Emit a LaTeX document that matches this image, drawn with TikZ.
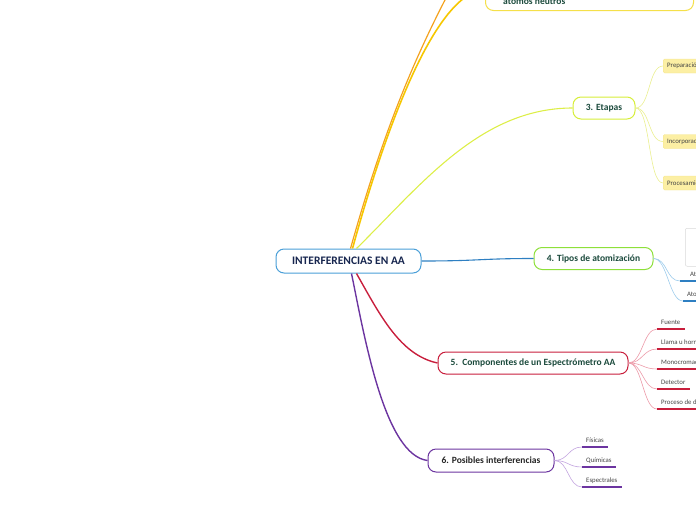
\documentclass[tikz,border=0pt]{standalone}
\usepackage{fontspec}
\setmainfont{Carlito}
\definecolor{cRoot}{HTML}{4A9FD8}
\definecolor{cOrange}{HTML}{F4A21E}
\definecolor{cGold}{HTML}{F6C700}
\definecolor{cYellowBox}{HTML}{F5E04A}
\definecolor{cLime}{HTML}{D7EE3A}
\definecolor{cLimeLine}{HTML}{DDEE48}
\definecolor{cEtFill}{HTML}{FCEFA4}
\definecolor{cEtDraw}{HTML}{F4E48C}
\definecolor{cEtLine}{HTML}{EAEF90}
\definecolor{cGreen}{HTML}{8EE03A}
\definecolor{cBlue}{HTML}{2E7FC2}
\definecolor{cBlueLight}{HTML}{9CCBEB}
\definecolor{cRed}{HTML}{C81E3C}
\definecolor{cRedLight}{HTML}{EC9AA8}
\definecolor{cPurple}{HTML}{6C35A0}
\definecolor{cPurpleLight}{HTML}{C3A5DF}
\definecolor{tdark}{HTML}{1B4A3C}
\definecolor{tnavy}{HTML}{17264F}
\definecolor{tgray}{HTML}{444444}
\begin{document}
\begin{tikzpicture}[x=1pt,y=-1pt,
  mainbox/.style={draw, rounded corners=8pt, line width=1pt, fill=white, inner sep=0pt,
    font=\bfseries\fontsize{9.5}{11}\selectfont, text=tdark},
  conn/.style={line width=1.4pt},
  sub/.style={line width=0.6pt},
  uline/.style={line width=1.2pt},
  leaf/.style={anchor=south west, inner xsep=4pt, inner ysep=2.5pt, text depth=1.5pt,
    text height=5pt, font=\fontsize{6.8}{8}\selectfont, text=tgray},
  etchild/.style={anchor=west, fill=cEtFill, draw=cEtDraw, line width=0.4pt, rounded corners=1.5pt,
    inner xsep=4pt, minimum height=14pt, text width=70pt, align=left,
    font=\fontsize{6.8}{8}\selectfont, text=tgray},
]
\useasboundingbox (0,0) rectangle (696,520);
\clip (0,0) rectangle (696,520);

% level-1 nodes
\node[mainbox, draw=cRoot, minimum width=145pt, minimum height=24pt,
  font=\bfseries\fontsize{11.5}{13}\selectfont, text=tnavy] (root) at (348.5,261) {INTERFERENCIAS EN AA};
\node[mainbox, draw=cYellowBox, minimum width=208pt, minimum height=42pt, anchor=south west] (atb) at (485,11) {};
\node[anchor=base west, inner sep=0pt, font=\bfseries\fontsize{9.5}{11}\selectfont, text=tdark] (att) at (503,4) {átomos neutros};
\node[mainbox, draw=cLime, minimum width=62pt, minimum height=22pt] (et) at (604,108) {3. Etapas};
\node[mainbox, draw=cGreen, minimum width=119pt, minimum height=22pt] (tip) at (593.5,258.5) {4. Tipos de atomización};
\node[mainbox, draw=cRed, minimum width=190pt, minimum height=22pt] (comp) at (533,363) {5.\ \ Componentes de un Espectrómetro AA};
\node[mainbox, draw=cPurple, text=black!85, minimum width=126pt, minimum height=23pt] (pos) at (491,460.5) {6. Posibles interferencias};
\coordinate (otop) at (472,-50);

% level-1 connectors
\draw[conn, cOrange, line width=1.2pt] ([xshift=2pt]root.north) .. controls (386,122) and (420,42) .. (otop);
\draw[conn, cGold, line width=1.6pt] ([xshift=4pt]root.north) .. controls (385,130) and (435,-8) .. (atb.west);
\draw[conn, cLimeLine, line width=1.1pt] ([xshift=8pt]root.north) .. controls (420,186) and (480,108) .. (et.west);
\draw[conn, cBlue, line width=1.1pt] (root.east) .. controls (480,261) and (480,258.5) .. (tip.west);
\draw[conn, cRed] ([xshift=8pt]root.south) .. controls (380,315) and (400,355) .. (comp.west);
\draw[conn, cPurple] ([xshift=3pt]root.south) .. controls (365,340) and (385,455) .. (pos.west);

% Etapas children
\node[etchild] (e1) at (663,66) {Preparación};
\node[etchild] (e2) at (663,141.5) {Incorporación};
\node[etchild] (e3) at (663,183) {Procesamiento};
\foreach \c in {e1,e2,e3}
  \draw[sub, cEtLine] (et.east) .. controls +(15,0) and +(-15,0) .. (\c.west);

% Tipos children
\node[draw=black!15, fill=white, rounded corners=2pt, line width=0.5pt, minimum width=30pt,
  minimum height=38pt, anchor=north west] (timg) at (685,228) {};
\node[leaf] (t1) at (686,281) {Atomización con llama};
\node[leaf] (t2) at (683,301) {Atomización electrotérmica};
\draw[sub, cBlueLight] (tip.east) .. controls +(14,0) and +(-14,0) .. ([xshift=-6pt]t1.south west);
\draw[sub, cBlueLight] (tip.east) .. controls +(14,0) and +(-14,0) .. (t2.south west);
\draw[uline, cBlue] ([xshift=-6pt]t1.south west) -- (t1.south east);
\draw[uline, cBlue] (t2.south west) -- (t2.south east);

% Componentes children
\node[leaf] (c1) at (657,329) {Fuente};
\node[leaf] (c2) at (657,349) {Llama u horno};
\node[leaf] (c3) at (657,369) {Monocromador};
\node[leaf] (c4) at (657,389) {Detector};
\node[leaf] (c5) at (657,409) {Proceso de detección};
\foreach \c in {c1,c2,c3,c4,c5}{
  \draw[sub, cRedLight] (comp.east) .. controls +(14,0) and +(-14,0) .. (\c.south west);
  \draw[uline, cRed] (\c.south west) -- (\c.south east);
}

% Posibles children
\node[leaf] (p1) at (582,447) {Físicas};
\node[leaf] (p2) at (582,467) {Químicas};
\node[leaf] (p3) at (582,487) {Espectrales};
\foreach \c in {p1,p2,p3}{
  \draw[sub, cPurpleLight] (pos.east) .. controls +(14,0) and +(-14,0) .. (\c.south west);
  \draw[uline, cPurple] (\c.south west) -- (\c.south east);
}
\end{tikzpicture}
\end{document}
